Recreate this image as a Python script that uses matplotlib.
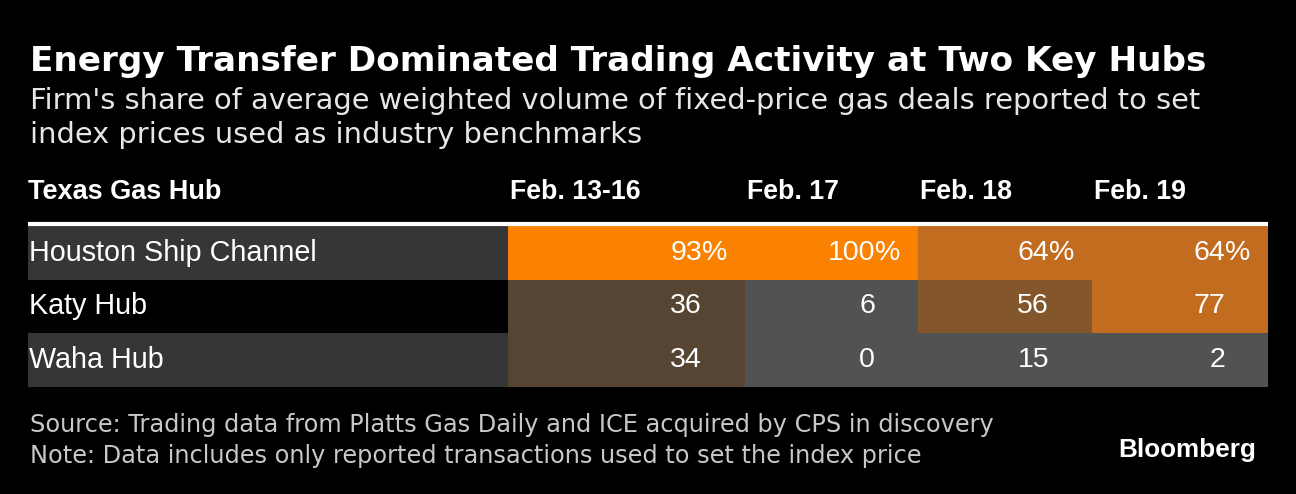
import matplotlib.pyplot as plt

# data
hubs = ["Houston Ship Channel", "Katy Hub", "Waha Hub"]
days = ["Feb. 13-16", "Feb. 17", "Feb. 18", "Feb. 19"]
share = [
    [93, 100, 64, 64],
    [36, 6, 56, 77],
    [34, 0, 15, 2],
]

title = "Energy Transfer Dominated Trading Activity at Two Key Hubs"
subtitle = ["Firm's share of average weighted volume of fixed-price gas deals reported to set",
            "index prices used as industry benchmarks"]
source = "Source: Trading data from Platts Gas Daily and ICE acquired by CPS in discovery"
note = "Note: Data includes only reported transactions used to set the index price"

# layout (pixels)
W, H = 1296, 494
label_left = 28
col_edges = [508, 745, 918, 1092, 1268]
row_top = 226
row_h = 53.5


def cell_color(v):
    if v >= 90:
        return "#fb8200"
    if v >= 60:
        return "#c16c1e"
    if v >= 50:
        return "#83562b"
    if v >= 30:
        return "#574533"
    return "#525252"


fig = plt.figure(figsize=(W / 100, H / 100), dpi=100, facecolor="black")
ax = fig.add_axes([0, 0, 1, 1])
ax.set_xlim(0, W)
ax.set_ylim(H, 0)
ax.axis("off")

# title block
ax.text(30, 62, title, color="white", fontsize=24.7, fontweight="bold",
        family="DejaVu Sans", va="center")
for k, line in enumerate(subtitle):
    ax.text(30, 101 + k * 34, line, color="#e6e6e6", fontsize=20.8,
            family="DejaVu Sans", va="center")

# header
ax.text(label_left, 192, "Texas Gas Hub", color="white", fontsize=19.5, fontweight="bold",
        family="Liberation Sans", va="center")
for j, d in enumerate(days):
    ax.text(col_edges[j] + 2, 192, d, color="white", fontsize=19.3, fontweight="bold",
            family="Liberation Sans", va="center")
ax.plot([label_left, col_edges[-1]], [223.5, 223.5], color="white", lw=3, solid_capstyle="butt")

# rows
for i, hub in enumerate(hubs):
    y = row_top + i * row_h
    ax.barh(y, col_edges[0] - label_left, left=label_left, height=row_h, align="edge",
            color="#363636" if i % 2 == 0 else "black")
    ax.text(label_left + 1, y + row_h / 2, hub, color="white", fontsize=20.7,
            family="Liberation Sans", va="center")
    for j, v in enumerate(share[i]):
        x0, x1 = col_edges[j], col_edges[j + 1]
        ax.barh(y, x1 - x0, left=x0, height=row_h, align="edge", color=cell_color(v))
        xr = x1 - 43
        ax.text(xr, y + row_h / 2, str(v), color="white", fontsize=20.5,
                family="Liberation Sans", va="center", ha="right")
        if i == 0:
            ax.text(xr, y + row_h / 2, "%", color="white", fontsize=20.5,
                    family="Liberation Sans", va="center", ha="left")

# footer
ax.text(30, 425, source, color="#c8c8c8", fontsize=17.3, family="DejaVu Sans", va="center")
ax.text(30, 456, note, color="#c8c8c8", fontsize=17.3, family="DejaVu Sans", va="center")
ax.text(1256, 450, "Bloomberg", color="white", fontsize=18.8, fontweight="bold",
        family="Liberation Sans", va="center", ha="right")

fig.savefig("out.png", dpi=100, facecolor="black")
